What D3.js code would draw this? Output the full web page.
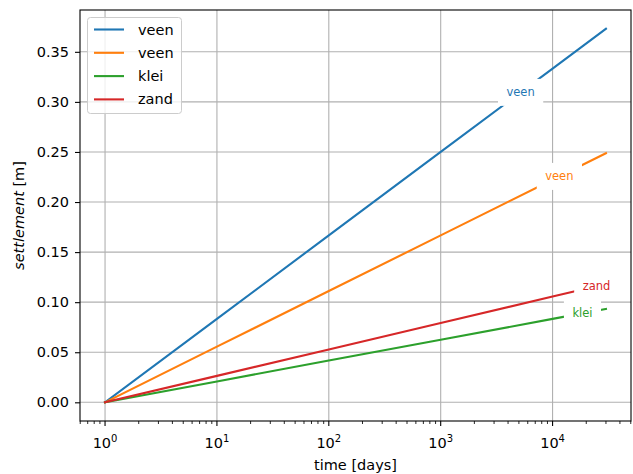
<!DOCTYPE html>
<html>
<head>
<meta charset="utf-8">
<script src="https://cdn.jsdelivr.net/npm/d3@7"></script>
<style>
  html, body { margin: 0; padding: 0; background: #fff; }
  svg { display: block; font-family: "DejaVu Sans", sans-serif; }
</style>
</head>
<body>
<svg id="chart" width="633" height="474"></svg>
<script>
// Time points (days) at which settlement is sampled
const times = [1, 10, 100, 1000, 10000, 30000];

// Settlement [m] per soil layer
const seriesNames = ["veen", "veen", "klei", "zand"];
const veen1 = [0, 0.0833, 0.1667, 0.2500, 0.3333, 0.3731];
const veen2 = [0, 0.0556, 0.1111, 0.1667, 0.2222, 0.2487];
const klei  = [0, 0.0208, 0.0417, 0.0625, 0.0833, 0.0932];
const zand  = [0, 0.0264, 0.0528, 0.0792, 0.1056, 0.1182];
const seriesValues = [veen1, veen2, klei, zand];
const seriesColors = ["#1f77b4", "#ff7f0e", "#2ca02c", "#d62728"];

// Time at which each inline label sits on its line
const labelTimes = [5180, 11500, 18500, 24700];

// Axis ticks
const xMajorTicks = [1, 10, 100, 1000, 10000];
const xTickExponents = ["0", "1", "2", "3", "4"];
const yTicks = [0, 0.05, 0.10, 0.15, 0.20, 0.25, 0.30, 0.35];

const svg = d3.select("#chart");
const plot = { left: 80, right: 631, top: 10, bottom: 421 };

// Log x with 5% margins in log space, linear y with 5% margins
const lx0 = Math.log10(d3.min(times)), lx1 = Math.log10(d3.max(times));
const xPad = 0.05 * (lx1 - lx0);
const x = d3.scaleLog()
  .domain([Math.pow(10, lx0 - xPad), Math.pow(10, lx1 + xPad)])
  .range([plot.left, plot.right]);

const yMin = 0, yMax = d3.max(seriesValues.flat());
const yPad = 0.05 * (yMax - yMin);
const y = d3.scaleLinear()
  .domain([yMin - yPad, yMax + yPad])
  .range([plot.bottom, plot.top]);

const gridColor = "#b0b0b0";
const fontSize = 14.5;

// Grid
const grid = svg.append("g");
grid.selectAll("line.gx").data(xMajorTicks).join("line")
  .attr("x1", d => x(d)).attr("x2", d => x(d))
  .attr("y1", plot.top).attr("y2", plot.bottom)
  .attr("stroke", gridColor).attr("stroke-width", 1.1);
grid.selectAll("line.gy").data(yTicks).join("line")
  .attr("y1", d => y(d)).attr("y2", d => y(d))
  .attr("x1", plot.left).attr("x2", plot.right)
  .attr("stroke", gridColor).attr("stroke-width", 1.1);

// Lines
const line = d3.line()
  .x((d, i) => x(times[i]))
  .y(d => y(d));
svg.append("g").selectAll("path").data(seriesValues).join("path")
  .attr("d", d => line(d))
  .attr("fill", "none")
  .attr("stroke", (d, i) => seriesColors[i])
  .attr("stroke-width", 2.1)
  .attr("stroke-linecap", "square");

// Inline labels with white backgrounds
function valueAt(vals, t) {
  const lt = Math.log10(t);
  for (let i = 0; i < times.length - 1; i++) {
    const a = Math.log10(times[i]), b = Math.log10(times[i + 1]);
    if (lt >= a && lt <= b) {
      const f = (lt - a) / (b - a);
      return vals[i] + f * (vals[i + 1] - vals[i]);
    }
  }
  return vals[vals.length - 1];
}
const labels = svg.append("g");
seriesNames.forEach((name, i) => {
  const t = labelTimes[i];
  const cx = x(t), cy = y(valueAt(seriesValues[i], t));
  const g = labels.append("g");
  const txt = g.append("text")
    .attr("x", cx).attr("y", cy)
    .attr("text-anchor", "middle")
    .attr("dominant-baseline", "central")
    .attr("font-size", 11.5)
    .attr("fill", seriesColors[i])
    .text(name);
  const w = txt.node().getComputedTextLength();
  g.insert("rect", "text")
    .attr("x", cx - w / 2 - 8.5).attr("y", cy - 13.5)
    .attr("width", w + 17).attr("height", 27)
    .attr("fill", "#fff");
});

// Axes frame
svg.append("rect")
  .attr("x", plot.left).attr("y", plot.top)
  .attr("width", plot.right - plot.left).attr("height", plot.bottom - plot.top)
  .attr("fill", "none").attr("stroke", "#000").attr("stroke-width", 1.1);

// Y axis
const yAxis = d3.axisLeft(y)
  .tickValues(yTicks)
  .tickFormat(d3.format(".2f"))
  .tickSize(5).tickSizeOuter(0).tickPadding(6);
const gy = svg.append("g").attr("transform", `translate(${plot.left},0)`).call(yAxis);
gy.select(".domain").remove();
gy.selectAll("line").attr("stroke", "#000").attr("stroke-width", 1.1);
gy.selectAll("text").attr("font-size", fontSize).attr("fill", "#000")
  .attr("font-family", "DejaVu Sans");

// X axis: major and minor ticks
const [d0, d1] = x.domain();
const minor = [];
for (let e = Math.floor(Math.log10(d0)); e <= Math.ceil(Math.log10(d1)); e++) {
  for (let k = 2; k <= 9; k++) {
    const v = k * Math.pow(10, e);
    if (v >= d0 && v <= d1) minor.push(v);
  }
}
const xAxisG = svg.append("g");
xAxisG.selectAll("line.minor").data(minor).join("line")
  .attr("x1", d => x(d)).attr("x2", d => x(d))
  .attr("y1", plot.bottom).attr("y2", plot.bottom + 3)
  .attr("stroke", "#000").attr("stroke-width", 0.85);
xAxisG.selectAll("line.major").data(xMajorTicks).join("line")
  .attr("x1", d => x(d)).attr("x2", d => x(d))
  .attr("y1", plot.bottom).attr("y2", plot.bottom + 5)
  .attr("stroke", "#000").attr("stroke-width", 1.1);
xMajorTicks.forEach((v, i) => {
  const t = xAxisG.append("text")
    .attr("x", x(v)).attr("y", plot.bottom + 27.3)
    .attr("text-anchor", "middle")
    .attr("font-size", fontSize).attr("fill", "#000");
  t.append("tspan").text("10");
  t.append("tspan").attr("font-size", 10).attr("dy", -6).text(xTickExponents[i]);
});

// Axis titles
svg.append("text")
  .attr("x", (plot.left + plot.right) / 2).attr("y", 470)
  .attr("text-anchor", "middle").attr("font-size", fontSize).attr("fill", "#000")
  .text("time [days]");
const yl = svg.append("text")
  .attr("transform", `translate(24,${(plot.top + plot.bottom) / 2}) rotate(-90)`)
  .attr("text-anchor", "middle").attr("font-size", fontSize).attr("fill", "#000");
yl.append("tspan").attr("font-style", "italic").text("settlement");
yl.append("tspan").text(" [m]");

// Legend
const legend = svg.append("g");
legend.append("rect")
  .attr("x", 87.5).attr("y", 17.5).attr("width", 94).attr("height", 96)
  .attr("rx", 3).attr("fill", "#fff").attr("fill-opacity", 0.8)
  .attr("stroke", "#cccccc").attr("stroke-width", 1);
seriesNames.forEach((name, i) => {
  const ry = 29.5 + i * 23.3;
  legend.append("line")
    .attr("x1", 94).attr("x2", 124).attr("y1", ry).attr("y2", ry)
    .attr("stroke", seriesColors[i]).attr("stroke-width", 2.1);
  legend.append("text")
    .attr("x", 138).attr("y", ry)
    .attr("dominant-baseline", "central")
    .attr("font-size", fontSize).attr("fill", "#000")
    .text(name);
});
</script>
</body>
</html>
